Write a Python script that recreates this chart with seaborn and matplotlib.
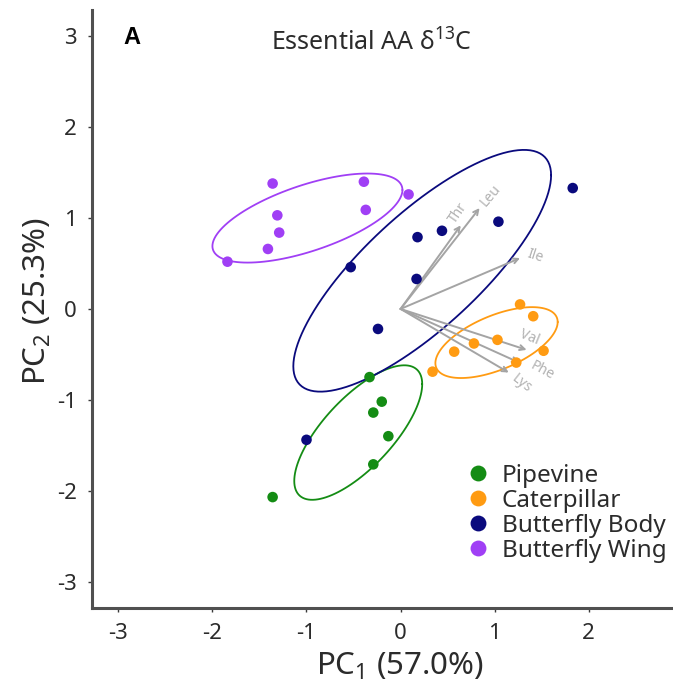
import numpy as np
import pandas as pd
import matplotlib
matplotlib.use("Agg")
import matplotlib.pyplot as plt
import seaborn as sns

# ---- sample scores on the first two principal components ----
groups = ["Pipevine", "Caterpillar", "Butterfly Body", "Butterfly Wing"]
palette = ["#148c14", "#ff9b12", "#0a0a7d", "#a03ff5"]

pipevine_pc1 = [-0.33, -0.20, -0.29, -0.13, -0.29, -1.36]
pipevine_pc2 = [-0.75, -1.02, -1.14, -1.40, -1.71, -2.07]
caterpillar_pc1 = [1.27, 1.41, 1.03, 0.78, 0.57, 1.52, 1.23, 0.34]
caterpillar_pc2 = [0.05, -0.08, -0.34, -0.38, -0.47, -0.46, -0.59, -0.69]
body_pc1 = [1.83, 1.04, 0.44, 0.18, -0.53, 0.17, -0.24, -1.00]
body_pc2 = [1.33, 0.96, 0.86, 0.79, 0.46, 0.33, -0.22, -1.44]
wing_pc1 = [-1.36, -0.39, 0.085, -1.31, -0.37, -1.29, -1.41, -1.84]
wing_pc2 = [1.38, 1.40, 1.26, 1.03, 1.09, 0.84, 0.66, 0.52]

# ---- group ellipses: centre, half-extent along each PC, correlation ----
ellipse_cx = [-0.45, 1.02, 0.23, -0.99]
ellipse_cy = [-1.36, -0.37, 0.42, 1.00]
ellipse_sx = [0.68, 0.65, 1.37, 1.01]
ellipse_sy = [0.74, 0.39, 1.33, 0.49]
ellipse_r = [0.72, 0.58, 0.79, 0.63]

# ---- amino-acid loadings (biplot arrows) ----
loading_names = ["Thr", "Leu", "Ile", "Val", "Phe", "Lys"]
loading_pc1 = [0.64, 0.84, 1.27, 1.34, 1.26, 1.15]
loading_pc2 = [0.92, 1.11, 0.56, -0.45, -0.59, -0.70]

tick_values = [-3, -2, -1, 0, 1, 2, 3]

scores = pd.concat([
    pd.DataFrame({"PC1": pipevine_pc1, "PC2": pipevine_pc2, "Tissue": groups[0]}),
    pd.DataFrame({"PC1": caterpillar_pc1, "PC2": caterpillar_pc2, "Tissue": groups[1]}),
    pd.DataFrame({"PC1": body_pc1, "PC2": body_pc2, "Tissue": groups[2]}),
    pd.DataFrame({"PC1": wing_pc1, "PC2": wing_pc2, "Tissue": groups[3]}),
], ignore_index=True)


def ellipse_path(cx, cy, sx, sy, r, segments=120):
    shape = np.array([[sx * sx, r * sx * sy], [r * sx * sy, sy * sy]])
    ang = np.linspace(0, 2 * np.pi, segments + 1)
    circle = np.column_stack([np.cos(ang), np.sin(ang)])
    return np.array([cx, cy]) + circle @ np.linalg.cholesky(shape).T


sns.set_theme(style="white")
plt.rcParams["font.family"] = ["Noto Sans", "DejaVu Sans"]
plt.rcParams["mathtext.fontset"] = "custom"
plt.rcParams["mathtext.rm"] = "Noto Sans"
plt.rcParams["mathtext.it"] = "Noto Sans:italic"
plt.rcParams["axes.unicode_minus"] = False

text_col = "#2b2b2b"

fig = plt.figure(figsize=(6.73, 6.89), dpi=100)
ax = fig.add_axes([0.1367, 0.1176, 0.917, 0.868])

# group ellipses
for i, c in enumerate(palette):
    e = ellipse_path(ellipse_cx[i], ellipse_cy[i], ellipse_sx[i],
                     ellipse_sy[i], ellipse_r[i])
    ax.plot(e[:, 0], e[:, 1], color=c, lw=1.3, zorder=1)

# loading arrows and labels
label_offsets = [(-0.03, 0.13), (0.12, 0.14), (0.16, 0.02),
                 (0.03, 0.14), (0.25, -0.09), (0.14, -0.12)]
label_rot = [55, 50, -18, -22, -28, -38]
for name, lx, ly, (dx, dy), rot in zip(loading_names, loading_pc1, loading_pc2,
                                       label_offsets, label_rot):
    ax.annotate("", xy=(lx, ly), xytext=(0, 0),
                arrowprops=dict(arrowstyle="->", color="#a4a4a4", lw=1.4,
                                mutation_scale=9, shrinkA=0, shrinkB=0),
                zorder=2)
    ax.text(lx + dx, ly + dy, name, color="#b2b2b2", fontsize=10,
            rotation=rot, ha="center", va="center", zorder=2)

sns.scatterplot(data=scores, x="PC1", y="PC2", hue="Tissue", hue_order=groups,
                palette=palette, s=58, linewidth=0, ax=ax, zorder=3)

ax.set_xlim(-3.28, 3.28)
ax.set_ylim(-3.29, 3.29)
ax.set_xticks(tick_values)
ax.set_yticks(tick_values)
ax.tick_params(axis="both", which="major", labelsize=16, colors="#3a3a3a",
               length=3, width=1, direction="out", pad=8, bottom=True, left=True)
for t in ax.get_xticklabels() + ax.get_yticklabels():
    t.set_color(text_col)
for side in ["top", "right"]:
    ax.spines[side].set_visible(False)
for side in ["left", "bottom"]:
    ax.spines[side].set_color("#505050")
    ax.spines[side].set_linewidth(2.2)

ax.set_xlabel(r"PC$_{\mathrm{1}}$ (57.0%)", fontsize=22.5, color=text_col)
ax.set_ylabel(r"PC$_{\mathrm{2}}$ (25.3%)", fontsize=22.5, color=text_col)
ax.xaxis.label.set_va("center")
ax.yaxis.label.set_va("center")
ax.xaxis.set_label_coords(0.4995, -0.0985)
ax.yaxis.set_label_coords(-0.089, 0.514)

fig.text(0.402, 0.938, r"Essential AA δ$^{\mathrm{13}}$C", fontsize=18,
         color=text_col, ha="left", va="center")
fig.text(0.183, 0.946, "A", fontsize=17, fontweight="bold",
         family="Liberation Sans", color="black", ha="left", va="center")

leg = ax.legend(loc="upper left", bbox_to_anchor=(0.670, 0.341),
                bbox_transform=fig.transFigure, frameon=False, fontsize=17.5,
                handlelength=1.4, handletextpad=0.3, labelspacing=0.04,
                borderaxespad=0, markerscale=1.5, title=None)
for t in leg.get_texts():
    t.set_color(text_col)

fig.savefig("out.png", dpi=100)
